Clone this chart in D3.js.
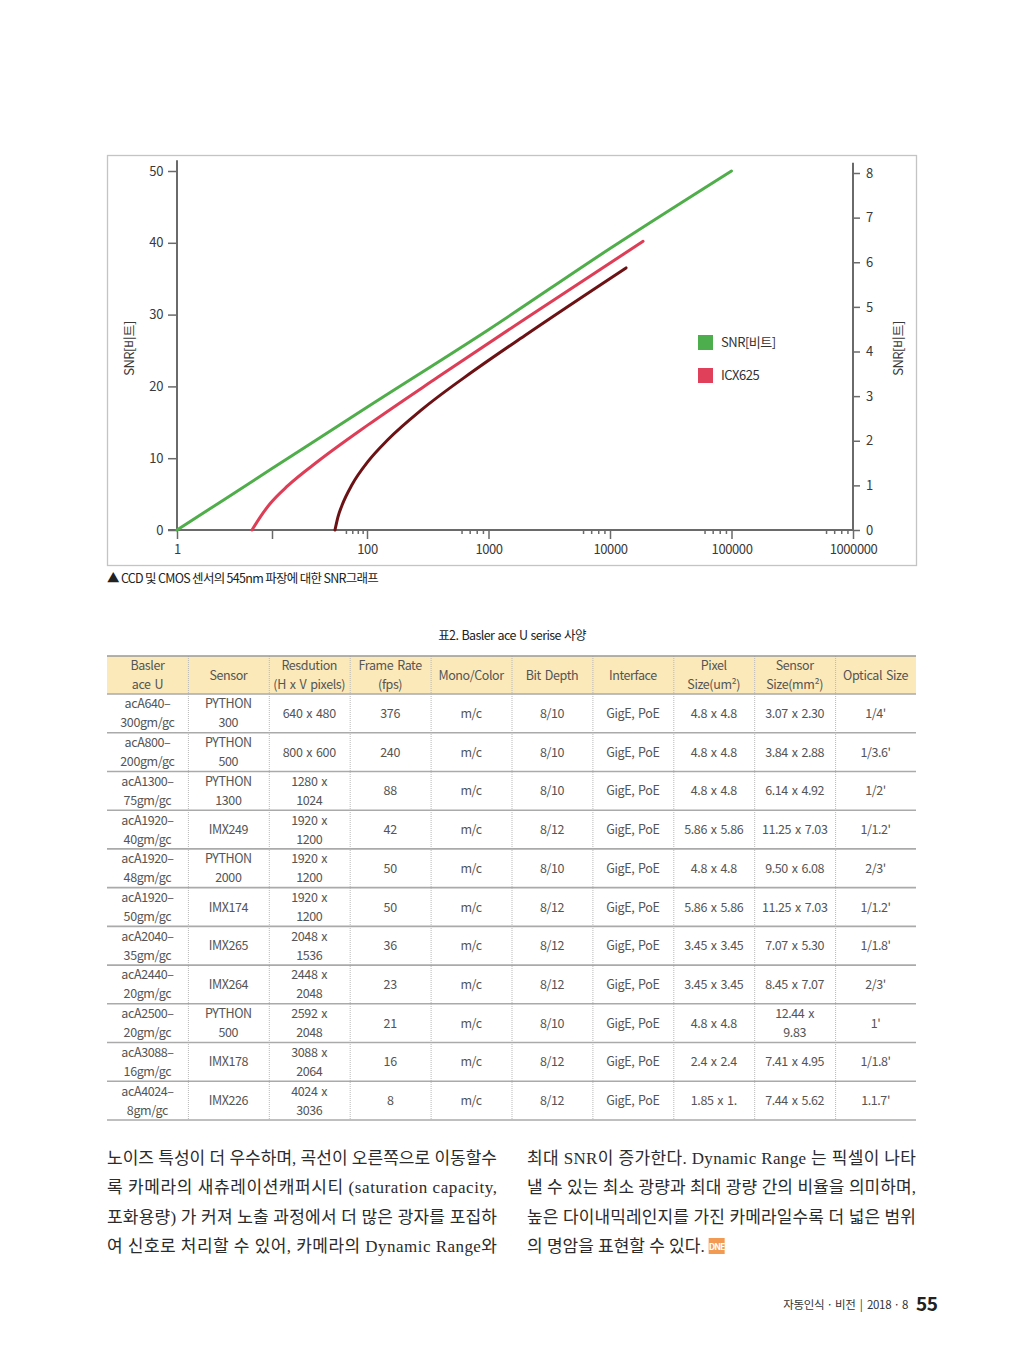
<!DOCTYPE html>
<html>
<head>
<meta charset="utf-8">
<script src="https://d3js.org/d3.v7.min.js"></script>
<style>
body{margin:0;background:#fff;}
svg{display:block;}
text{font-family:"Noto Sans CJK KR","Noto Sans",sans-serif;}
.body-text{font-family:"Liberation Serif","Noto Sans CJK KR",serif;}
</style>
</head>
<body>
<div id="page"></div>
<script>
// ---- chart data ----
const xMajorTicks = [1, 10, 100, 1000, 10000, 100000, 1000000];
const xMajorLabels = ['1', '', '100', '1000', '10000', '100000', '1000000'];
const xMinorTicks = [60, 70, 80, 90, 600, 700, 800, 900, 6000, 7000, 8000, 9000,
  60000, 70000, 80000, 90000, 600000, 700000, 800000, 900000];
const leftTicks = [0, 10, 20, 30, 40, 50];
const rightTicks = [0, 1, 2, 3, 4, 5, 6, 7, 8];

const greenX = [1, 10, 100, 1000, 10000, 100000];
const greenY = [0, 8.55, 17.1, 27.9, 39.2, 50];
const redX = [6.16, 7.48, 9.53, 14.7, 30.5, 102, 384, 1995, 18700];
const redY = [0, 1.77, 3.65, 6.17, 9.57, 14.64, 21.3, 29.4, 40.2];
const darkX = [46, 49.5, 54.6, 69.5, 102, 149, 284, 731, 1995, 13550];
const darkY = [0, 1.84, 3.45, 6.3, 9.55, 12.6, 16.8, 22.0, 27.1, 36.5];

const legendLabels = ['SNR[비트]', 'ICX625'];

// ---- table data ----
const tblHeader = ['Basler\nace U', 'Sensor', 'Resdution\n(H x V pixels)', 'Frame Rate\n(fps)',
  'Mono/Color', 'Bit Depth', 'Interface', 'Pixel\nSize(um²)', 'Sensor\nSize(mm²)', 'Optical Size'];
const colModel = ['acA640–\n300gm/gc', 'acA800–\n200gm/gc', 'acA1300–\n75gm/gc', 'acA1920–\n40gm/gc',
  'acA1920–\n48gm/gc', 'acA1920–\n50gm/gc', 'acA2040–\n35gm/gc', 'acA2440–\n20gm/gc',
  'acA2500–\n20gm/gc', 'acA3088–\n16gm/gc', 'acA4024–\n8gm/gc'];
const colSensor = ['PYTHON\n300', 'PYTHON\n500', 'PYTHON\n1300', 'IMX249', 'PYTHON\n2000', 'IMX174',
  'IMX265', 'IMX264', 'PYTHON\n500', 'IMX178', 'IMX226'];
const colRes = ['640 x 480', '800 x 600', '1280 x\n1024', '1920 x\n1200', '1920 x\n1200', '1920 x\n1200',
  '2048 x\n1536', '2448 x\n2048', '2592 x\n2048', '3088 x\n2064', '4024 x\n3036'];
const colFps = ['376', '240', '88', '42', '50', '50', '36', '23', '21', '16', '8'];
const colMono = ['m/c', 'm/c', 'm/c', 'm/c', 'm/c', 'm/c', 'm/c', 'm/c', 'm/c', 'm/c', 'm/c'];
const colBits = ['8/10', '8/10', '8/10', '8/12', '8/10', '8/12', '8/12', '8/12', '8/10', '8/12', '8/12'];
const colIf = ['GigE, PoE', 'GigE, PoE', 'GigE, PoE', 'GigE, PoE', 'GigE, PoE', 'GigE, PoE',
  'GigE, PoE', 'GigE, PoE', 'GigE, PoE', 'GigE, PoE', 'GigE, PoE'];
const colPixel = ['4.8 x 4.8', '4.8 x 4.8', '4.8 x 4.8', '5.86 x 5.86', '4.8 x 4.8', '5.86 x 5.86',
  '3.45 x 3.45', '3.45 x 3.45', '4.8 x 4.8', '2.4 x 2.4', '1.85 x 1.'];
const colSensorSize = ['3.07 x 2.30', '3.84 x 2.88', '6.14 x 4.92', '11.25 x 7.03', '9.50 x 6.08',
  '11.25 x 7.03', '7.07 x 5.30', '8.45 x 7.07', '12.44 x\n9.83', '7.41 x 4.95', '7.44 x 5.62'];
const colOptical = ["1/4'", "1/3.6'", "1/2'", "1/1.2'", "2/3'", "1/1.2'", "1/1.8'", "2/3'", "1'", "1/1.8'", "1.1.7'"];

// ---- body text ----
const leftLines = [
  '노이즈 특성이 더 우수하며, 곡선이 오른쪽으로 이동할수',
  '록 카메라의 새츄레이션캐퍼시티 (saturation capacity,',
  '포화용량) 가 커져 노출 과정에서 더 많은 광자를 포집하',
  '여 신호로 처리할 수 있어, 카메라의 Dynamic Range와'
];
const rightLines = [
  '최대 SNR이 증가한다. Dynamic Range 는 픽셀이 나타',
  '낼 수 있는 최소 광량과 최대 광량 간의 비율을 의미하며,',
  '높은 다이내믹레인지를 가진 카메라일수록 더 넓은 범위',
  '의 명암을 표현할 수 있다.'
];

const W = 1024, H = 1364;
const svg = d3.select('#page').append('svg').attr('width', W).attr('height', H);

// ================= chart =================
svg.append('rect')
  .attr('x', 107.5).attr('y', 155.5).attr('width', 809).attr('height', 410)
  .attr('fill', 'none').attr('stroke', '#c4c4c4').attr('stroke-width', 1.3);

// x: log10 value mapped piecewise (first two decades are compressed)
const xLog = d3.scaleLinear().domain([0, 2, 6]).range([177, 367, 853]);
const x = v => xLog(Math.log10(v));
const yL = d3.scaleLinear().domain([0, 50]).range([530, 171]);
const yR = d3.scaleLinear().domain([0, 8]).range([530, 173]);

const axisColor = '#6a6a6a';
const chart = svg.append('g').attr('class', 'chart');

// bottom axis major
const xAxis = chart.append('g')
  .attr('transform', `translate(0,${yL(0)})`)
  .call(d3.axisBottom(xLog)
    .tickValues(xMajorTicks.map(Math.log10))
    .tickFormat((d, i) => xMajorLabels[i])
    .tickSize(9).tickPadding(6).tickSizeOuter(0));
// minor
chart.append('g')
  .attr('transform', `translate(0,${yL(0)})`)
  .call(d3.axisBottom(xLog)
    .tickValues(xMinorTicks.map(Math.log10))
    .tickFormat('').tickSize(4).tickSizeOuter(0))
  .select('.domain').remove();

// left axis
const lAxis = chart.append('g')
  .attr('transform', `translate(${x(1)},0)`)
  .call(d3.axisLeft(yL).tickValues(leftTicks).tickSize(9).tickPadding(5).tickSizeOuter(0));
lAxis.select('.domain').attr('d', `M0,${yL(0)}V${yL(51.5)}`);

// right axis
const rAxis = chart.append('g')
  .attr('transform', `translate(${x(1000000)},0)`)
  .call(d3.axisRight(yR).tickValues(rightTicks).tickSize(7).tickPadding(6).tickSizeOuter(0));
rAxis.select('.domain').attr('d', `M0,${yR(0)}V${yR(8.23)}`);

chart.selectAll('.domain').attr('stroke', axisColor).attr('stroke-width', 2);
chart.selectAll('.tick line').attr('stroke', axisColor).attr('stroke-width', 1.5);
chart.selectAll('.tick text').attr('fill', '#3a3a3a').attr('font-size', 13)
  .attr('letter-spacing', '-0.4px')
  .style('font-family', '"Noto Sans CJK KR", sans-serif');
xAxis.select('.domain').attr('d', `M${x(1) - 9},0H${x(1000000)}`);

// axis titles
svg.append('text').attr('transform', `translate(134,${(yL(0) + yL(50)) / 2 - 2}) rotate(-90)`)
  .attr('text-anchor', 'middle').attr('font-size', 13).attr('fill', '#3a3a3a')
  .attr('letter-spacing', '-0.5px').text('SNR[비트]');
svg.append('text').attr('transform', `translate(903,${(yL(0) + yL(50)) / 2 - 2}) rotate(-90)`)
  .attr('text-anchor', 'middle').attr('font-size', 13).attr('fill', '#3a3a3a')
  .attr('letter-spacing', '-0.5px').text('SNR[비트]');

// curves
const series = [
  { xs: greenX, ys: greenY, color: '#4fae4a' },
  { xs: redX, ys: redY, color: '#de3d56' },
  { xs: darkX, ys: darkY, color: '#6c1214' }
];
const line = d3.line().x(d => x(d[0])).y(d => yL(d[1])).curve(d3.curveMonotoneX);
chart.selectAll('path.curve')
  .data(series)
  .join('path')
  .attr('class', 'curve')
  .attr('d', s => line(s.xs.map((v, i) => [v, s.ys[i]])))
  .attr('fill', 'none')
  .attr('stroke', s => s.color)
  .attr('stroke-width', 3)
  .attr('stroke-linecap', 'round');

// legend
const legendColors = ['#4cae4c', '#e0405a'];
const lg = chart.selectAll('g.legend').data(legendLabels).join('g')
  .attr('class', 'legend')
  .attr('transform', (d, i) => `translate(698,${335 + i * 33})`);
lg.append('rect').attr('width', 15).attr('height', 15).attr('fill', (d, i) => legendColors[i]);
lg.append('text').attr('x', 23).attr('y', 12).attr('font-size', 13).attr('fill', '#333')
  .attr('letter-spacing', '-0.5px').text(d => d);

// caption
svg.append('text').attr('x', 107).attr('y', 583).attr('font-size', 12.5).attr('fill', '#222')
  .attr('letter-spacing', '-0.7px').text('▲ CCD 및 CMOS 센서의 545nm 파장에 대한 SNR그래프');

// ================= table =================
svg.append('text').attr('x', 512).attr('y', 640).attr('text-anchor', 'middle')
  .attr('font-size', 12.5).attr('fill', '#222').attr('letter-spacing', '-0.6px')
  .attr('word-spacing', '1px')
  .text('표2. Basler ace U serise 사양');

const columns = [colModel, colSensor, colRes, colFps, colMono, colBits, colIf, colPixel, colSensorSize, colOptical];
const rows = colModel.map((_, i) => columns.map(c => c[i]));

const colX = d3.scaleBand().domain(d3.range(columns.length)).range([107, 916]);
const headTop = 656, headBottom = 694;
const rowY = d3.scaleBand().domain(d3.range(rows.length)).range([headBottom, 1120]);

const tbl = svg.append('g').attr('class', 'table');
tbl.append('rect').attr('x', 107).attr('y', headTop).attr('width', 809)
  .attr('height', headBottom - headTop).attr('fill', '#fbe9b9');

// dotted column separators
tbl.selectAll('line.vsep').data(d3.range(1, columns.length)).join('line')
  .attr('class', 'vsep')
  .attr('x1', d => colX(d) + 0.5).attr('x2', d => colX(d) + 0.5)
  .attr('y1', headTop).attr('y2', 1120)
  .attr('stroke', '#b8b8b8').attr('stroke-width', 1).attr('stroke-dasharray', '1,1');

// row lines
const hLines = [headTop, headBottom].concat(d3.range(1, rows.length + 1).map(i => rowY(i - 1) + rowY.bandwidth()));
tbl.selectAll('line.hsep').data(hLines).join('line')
  .attr('class', 'hsep')
  .attr('x1', 107).attr('x2', 916)
  .attr('y1', d => d).attr('y2', d => d)
  .attr('stroke', (d, i) => i === 0 ? '#999' : '#aaa').attr('stroke-width', 1.6);

function cellText(g, txt, cx, cy) {
  const parts = txt.split('\n');
  const t = g.append('text').attr('text-anchor', 'middle').attr('font-size', 12.5)
    .attr('fill', '#555').attr('letter-spacing', '-0.4px').attr('word-spacing', '1.5px');
  parts.forEach((p, k) => {
    t.append('tspan').attr('x', cx)
      .attr('y', cy + 4.5 + (k - (parts.length - 1) / 2) * 19)
      .text(p);
  });
}

tblHeader.forEach((h, j) => {
  cellText(tbl, h, colX(j) + colX.bandwidth() / 2, (headTop + headBottom) / 2);
});
rows.forEach((r, i) => {
  r.forEach((c, j) => {
    cellText(tbl, c, colX(j) + colX.bandwidth() / 2, rowY(i) + rowY.bandwidth() / 2);
  });
});

// ================= body text =================
function para(lines, x0, width) {
  lines.forEach((l, i) => {
    const t = svg.append('text').attr('class', 'body-text')
      .attr('x', x0).attr('y', 1164 + i * 29.3)
      .attr('font-size', 17).attr('fill', '#2b2b2b').text(l);
    const last = (lines === rightLines && i === lines.length - 1);
    if (!last) t.attr('textLength', width).attr('lengthAdjust', 'spacing');
  });
}
para(leftLines, 107, 390);
para(rightLines, 527, 389);

// end mark icon
const lastLine = svg.selectAll('text.body-text').filter((d, i) => i === 7);
const bb = lastLine.node().getBBox();
const ic = svg.append('g').attr('transform', `translate(${bb.x + bb.width + 4},1238)`);
ic.append('rect').attr('width', 16).attr('height', 16).attr('fill', '#f29a52');
ic.append('text').attr('x', 8).attr('y', 12).attr('text-anchor', 'middle')
  .attr('font-size', 9).attr('font-weight', 'bold').attr('fill', '#fff')
  .attr('letter-spacing', '-1px').text('DNE');

// footer
svg.append('text').attr('x', 908).attr('y', 1309).attr('text-anchor', 'end')
  .attr('font-size', 11.5).attr('fill', '#333').attr('letter-spacing', '-0.3px')
  .attr('xml:space', 'preserve')
  .text('자동인식 · 비전 \u2009|\u2009 2018 · 8');
svg.append('text').attr('x', 916).attr('y', 1311)
  .attr('font-size', 19).attr('font-weight', 'bold').attr('fill', '#222')
  .attr('letter-spacing', '-0.5px').text('55');
</script>
</body>
</html>
